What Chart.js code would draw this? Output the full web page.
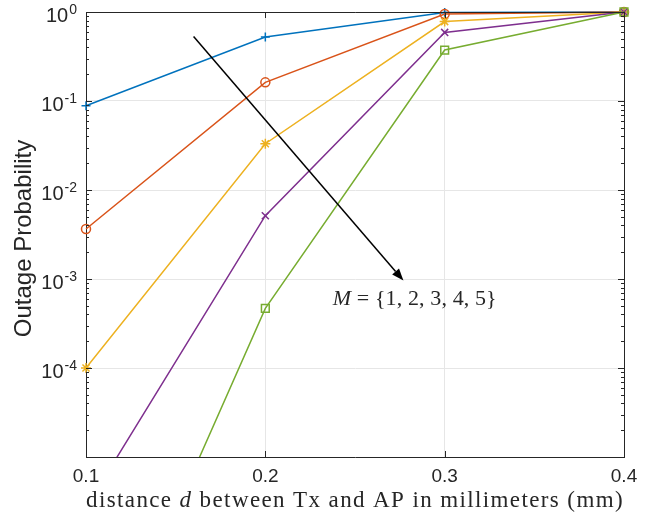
<!DOCTYPE html>
<html>
<head>
<meta charset="utf-8">
<script src="https://cdn.jsdelivr.net/npm/chart.js@4.4.1/dist/chart.umd.min.js"></script>
<style>
  html, body { margin: 0; padding: 0; background: #fff; }
  #wrap { width: 667px; height: 518px; }
</style>
</head>
<body>
<div id="wrap"><canvas id="outageChart" width="667" height="518"></canvas></div>
<script>
// distance d (mm)
const distances = [0.1, 0.2, 0.3, 0.4];

// outage probability per number of antennas M
const outageM1 = [0.0885, 0.524, 0.985, 1];
const outageM2 = [0.00365, 0.162, 0.95, 1];
const outageM3 = [1e-4, 0.0331, 0.78, 1];
const outageM4 = [2.7e-6, 0.00514, 0.59, 1];
const outageM5 = [1.3e-8, 4.67e-4, 0.374, 1];

const xTicks = [0.1, 0.2, 0.3, 0.4];
const yTicks = [1e-5, 1e-4, 1e-3, 1e-2, 1e-1, 1];
const yTickExponents = ['', '-4', '-3', '-2', '-1', '0'];

// arrow annotation (data coords) and its label
const arrowFrom = [0.16, 0.532];
const arrowTo = [0.277, 0.00096];
const labelAt = [0.2376, 5.14e-4];

const axisColor = '#262626';
const gridColor = '#e6e6e6';
const sansFont = '"Liberation Sans", Arial, sans-serif';
const serifFont = '"Liberation Serif", "Times New Roman", serif';

function toPoints(values) {
    return distances.map((d, i) => ({ x: d, y: values[i] }));
}

// draws mixed-style text; if fitWidth is given, letter spacing is stretched to it
function drawRich(ctx, parts, x, y, align, fitWidth) {
    let total = 0, chars = 0;
    ctx.letterSpacing = '0px';
    parts.forEach(p => { ctx.font = p[1]; total += ctx.measureText(p[0]).width; chars += p[0].length; });
    let spacing = 0;
    if (fitWidth) {
        spacing = (fitWidth - total) / chars;
        total = fitWidth;
    }
    let cx = align === 'center' ? x - total / 2 : x;
    ctx.letterSpacing = spacing + 'px';
    parts.forEach(p => {
        ctx.font = p[1];
        ctx.fillText(p[0], cx, y);
        cx += ctx.measureText(p[0]).width;
    });
    ctx.letterSpacing = '0px';
}

const decorPlugin = {
    id: 'decor',
    afterDraw(chart) {
        const ctx = chart.ctx;
        const area = chart.chartArea;
        const xs = chart.scales.x;
        const ys = chart.scales.y;
        ctx.save();

        // box
        ctx.strokeStyle = axisColor;
        ctx.lineWidth = 1;
        ctx.beginPath();
        ctx.moveTo(area.left, area.top + 0.5);
        ctx.lineTo(area.right + 0.5, area.top + 0.5);
        ctx.lineTo(area.right + 0.5, area.bottom);
        ctx.stroke();

        // inward ticks
        ctx.beginPath();
        xTicks.forEach(v => {
            const px = Math.round(xs.getPixelForValue(v)) + 0.5;
            ctx.moveTo(px, area.bottom); ctx.lineTo(px, area.bottom - 6);
            ctx.moveTo(px, area.top); ctx.lineTo(px, area.top + 6);
        });
        yTicks.forEach(v => {
            const py = Math.round(ys.getPixelForValue(v)) + 0.5;
            ctx.moveTo(area.left, py); ctx.lineTo(area.left + 6, py);
            ctx.moveTo(area.right, py); ctx.lineTo(area.right - 6, py);
        });
        for (let e = -5; e < 0; e++) {
            for (let k = 2; k <= 9; k++) {
                const py = Math.round(ys.getPixelForValue(k * Math.pow(10, e))) + 0.5;
                ctx.moveTo(area.left, py); ctx.lineTo(area.left + 3, py);
                ctx.moveTo(area.right, py); ctx.lineTo(area.right - 3, py);
            }
        }
        ctx.stroke();

        // y tick labels 10^n
        ctx.fillStyle = axisColor;
        ctx.textBaseline = 'alphabetic';
        ctx.textAlign = 'right';
        yTicks.forEach((v, i) => {
            const exp = yTickExponents[i];
            if (!exp) return;
            const py = ys.getPixelForValue(v);
            const supX = area.left - 9;
            ctx.font = '14px ' + sansFont;
            ctx.fillText(exp, supX, py + 2);
            const w = ctx.measureText(exp).width;
            ctx.font = '20px ' + sansFont;
            ctx.fillText('10', supX - w - 1, py + 10);
        });

        // y title
        ctx.save();
        ctx.translate(24, (area.top + area.bottom) / 2 + 4);
        ctx.rotate(-Math.PI / 2);
        ctx.textAlign = 'center';
        ctx.textBaseline = 'middle';
        ctx.font = '24px ' + sansFont;
        ctx.fillText('Outage Probability', 0, 0);
        ctx.restore();

        // x title
        ctx.textAlign = 'left';
        ctx.textBaseline = 'alphabetic';
        drawRich(ctx, [
            ['distance ', '23px ' + serifFont],
            ['d', 'italic 23px ' + serifFont],
            [' between Tx and AP in millimeters (mm)', '23px ' + serifFont]
        ], (area.left + area.right) / 2, 507, 'center', area.right - area.left);

        // arrow
        const x0 = xs.getPixelForValue(arrowFrom[0]);
        const y0 = ys.getPixelForValue(arrowFrom[1]);
        const x1 = xs.getPixelForValue(arrowTo[0]);
        const y1 = ys.getPixelForValue(arrowTo[1]);
        const ang = Math.atan2(y1 - y0, x1 - x0);
        const headLen = 12, headW = 4.5;
        const bx = x1 - headLen * Math.cos(ang);
        const by = y1 - headLen * Math.sin(ang);
        ctx.strokeStyle = '#000';
        ctx.fillStyle = '#000';
        ctx.lineWidth = 1.5;
        ctx.beginPath();
        ctx.moveTo(x0, y0);
        ctx.lineTo(bx, by);
        ctx.stroke();
        ctx.beginPath();
        ctx.moveTo(x1, y1);
        ctx.lineTo(bx + headW * Math.sin(ang), by - headW * Math.cos(ang));
        ctx.lineTo(bx - headW * Math.sin(ang), by + headW * Math.cos(ang));
        ctx.closePath();
        ctx.fill();

        // label
        ctx.fillStyle = axisColor;
        ctx.textBaseline = 'alphabetic';
        drawRich(ctx, [
            ['M', 'italic 22px ' + serifFont],
            [' = {1, 2, 3, 4, 5}', '22px ' + serifFont]
        ], xs.getPixelForValue(labelAt[0]), ys.getPixelForValue(labelAt[1]), 'left', 164);

        ctx.restore();
    }
};

function series(values, color, style, radius, order) {
    return {
        data: toPoints(values),
        borderColor: color,
        borderWidth: 1.5,
        pointStyle: style,
        pointRadius: radius,
        pointBorderColor: color,
        pointBackgroundColor: 'rgba(0,0,0,0)',
        pointBorderWidth: 1.5,
        tension: 0,
        clip: { left: 8, top: 8, right: 8, bottom: 0 },
        order: order
    };
}

new Chart(document.getElementById('outageChart').getContext('2d'), {
    type: 'line',
    data: {
        datasets: [
            series(outageM1, '#0072BD', 'cross', 4.5, 5),
            series(outageM2, '#D95319', 'circle', 4.5, 4),
            series(outageM3, '#EDB120', 'star', 5, 3),
            series(outageM4, '#7E2F8E', 'crossRot', 5, 2),
            series(outageM5, '#77AC30', 'rect', 5.5, 1)
        ]
    },
    options: {
        responsive: false,
        animation: false,
        devicePixelRatio: 1,
        layout: { padding: { top: 12, right: 43, left: 0, bottom: 0 } },
        plugins: {
            legend: { display: false },
            tooltip: { enabled: false }
        },
        scales: {
            x: {
                type: 'linear',
                min: 0.1,
                max: 0.4,
                afterBuildTicks: scale => { scale.ticks = xTicks.map(v => ({ value: v })); },
                afterFit: scale => { scale.height = 61; },
                grid: { color: gridColor, drawTicks: false },
                border: { color: axisColor, width: 1 },
                ticks: {
                    padding: 8,
                    color: axisColor,
                    font: { family: sansFont, size: 19 },
                    callback: v => v.toFixed(1),
                    maxRotation: 0
                }
            },
            y: {
                type: 'logarithmic',
                min: 1e-5,
                max: 1,
                afterBuildTicks: scale => { scale.ticks = yTicks.map(v => ({ value: v })); },
                afterFit: scale => { scale.width = 86; },
                grid: { color: gridColor, drawTicks: false },
                border: { color: axisColor, width: 1 },
                ticks: { display: false }
            }
        }
    },
    plugins: [decorPlugin]
});
</script>
</body>
</html>
